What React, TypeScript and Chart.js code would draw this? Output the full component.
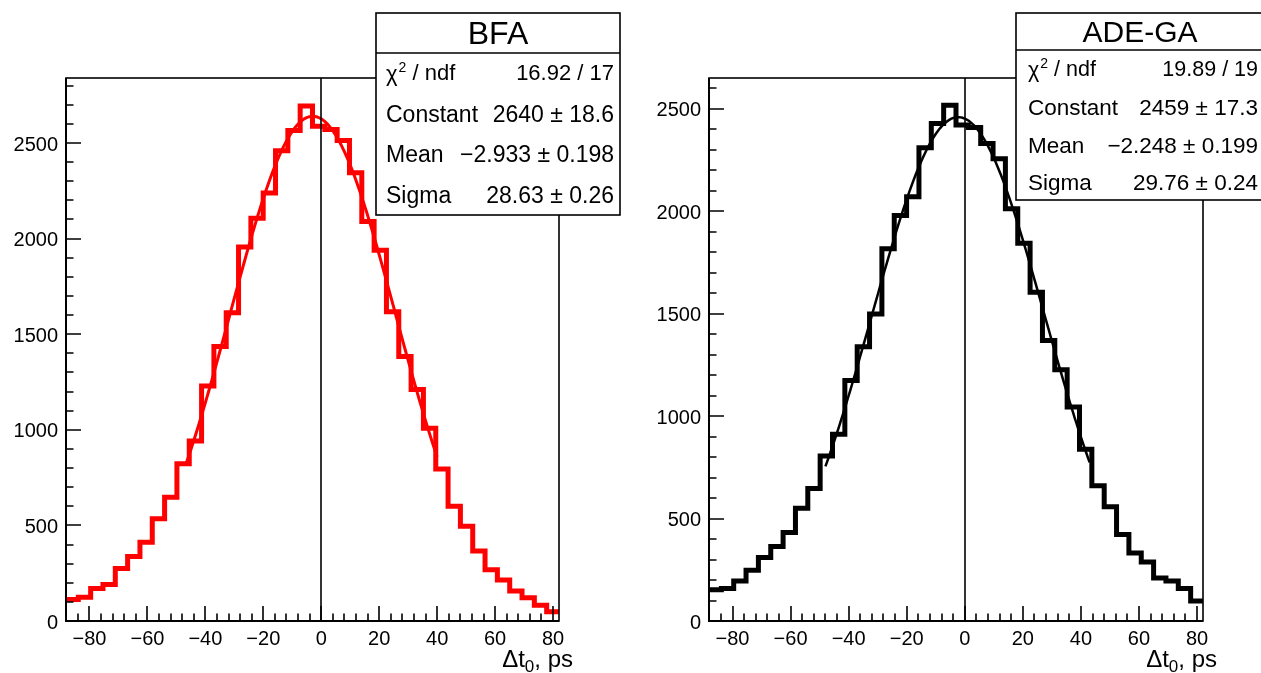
import React, { useEffect, useRef } from "react";
import { Chart, registerables } from "chart.js";

Chart.register(...registerables);

// ---------- data ----------
const X_MIN = -88.1;
const X_MAX = 82.05;
const N_BINS = 40;

const bfaCounts = [
  112, 124, 170, 191, 274, 338, 412, 535, 647, 822,
  942, 1229, 1436, 1612, 1956, 2106, 2239, 2459, 2565, 2694,
  2588, 2571, 2513, 2345, 2089, 1939, 1618, 1383, 1211, 1008,
  795, 600, 495, 366, 268, 214, 157, 122, 82, 48,
];
const adeCounts = [
  152, 159, 195, 248, 310, 363, 432, 550, 647, 805,
  912, 1174, 1338, 1498, 1817, 1979, 2071, 2310, 2428, 2517,
  2421, 2408, 2330, 2256, 2012, 1844, 1605, 1369, 1226, 1044,
  838, 660, 558, 422, 332, 288, 210, 195, 158, 98,
];

const xMajorTicks = [-80, -60, -40, -20, 0, 20, 40, 60, 80];
const yMajorTicks = [0, 500, 1000, 1500, 2000, 2500];

const bfaFit = { constant: 2640, mean: -2.933, sigma: 28.63, from: -46.5, to: 40 };
const adeFit = { constant: 2459, mean: -2.248, sigma: 29.76, from: -48, to: 43 };

const statLabels = ["χ2 / ndf", "Constant", "Mean", "Sigma"];
const bfaStatValues = ["16.92 / 17", "2640 ± 18.6", "−2.933 ± 0.198", "28.63 ± 0.26"];
const adeStatValues = ["19.89 / 19", "2459 ± 17.3", "−2.248 ± 0.199", "29.76 ± 0.24"];

const FONT = "'Liberation Sans', Arial, Helvetica, sans-serif";
const H = 673;

type Panel = {
  counts: number[];
  fit: { constant: number; mean: number; sigma: number; from: number; to: number };
  color: string;
  histWidth: number;
  fitWidth: number;
  yMax: number;
  title: string;
  titleFont: number;
  statValues: string[];
  statFont: number;
  canvasWidth: number;
  area: { left: number; right: number; top: number; bottom: number };
  box: { x0: number; x1: number; y0: number; ySep: number; y1: number; padL: number; padR: number; dy: number };
};

const bfaPanel: Panel = {
  counts: bfaCounts,
  fit: bfaFit,
  color: "#ff0000",
  histWidth: 5,
  fitWidth: 3,
  yMax: 2840,
  title: "BFA",
  titleFont: 32,
  statValues: bfaStatValues,
  statFont: 23,
  canvasWidth: 630,
  area: { left: 66, right: 559, top: 78, bottom: 621 },
  box: { x0: 376, x1: 620, y0: 13, ySep: 53, y1: 215, padL: 10, padR: 6, dy: 1.5 },
};

const adePanel: Panel = {
  counts: adeCounts,
  fit: adeFit,
  color: "#000000",
  histWidth: 5,
  fitWidth: 2.5,
  yMax: 2650,
  title: "ADE-GA",
  titleFont: 30,
  statValues: adeStatValues,
  statFont: 22.5,
  canvasWidth: 621,
  area: { left: 69, right: 563, top: 78, bottom: 621 },
  box: { x0: 376, x1: 624, y0: 13, ySep: 50, y1: 200, padL: 12, padR: 6, dy: 3 },
};

function fmt(v: number): string {
  return v < 0 ? "\u2212" + Math.abs(v) : String(v);
}

function makeChart(canvas: HTMLCanvasElement, p: Panel): Chart {
  const binW = (X_MAX - X_MIN) / N_BINS;
  const histData = p.counts.map((c, i) => ({ x: X_MIN + i * binW, y: c }));
  histData.push({ x: X_MAX, y: p.counts[p.counts.length - 1] });

  const fitData: { x: number; y: number }[] = [];
  const nFit = 160;
  for (let i = 0; i <= nFit; i++) {
    const x = p.fit.from + ((p.fit.to - p.fit.from) * i) / nFit;
    const z = (x - p.fit.mean) / p.fit.sigma;
    fitData.push({ x, y: p.fit.constant * Math.exp(-0.5 * z * z) });
  }

  const overlay = {
    id: "rootStyle",
    afterDraw(chart: any) {
      const ctx: CanvasRenderingContext2D = chart.ctx;
      const xs = chart.scales.x;
      const ys = chart.scales.y;
      const a = chart.chartArea;
      ctx.save();
      ctx.strokeStyle = "#000";
      ctx.lineCap = "butt";

      // zero line
      const x0 = Math.round(xs.getPixelForValue(0));
      ctx.lineWidth = 1.6;
      ctx.beginPath();
      ctx.moveTo(x0, a.bottom);
      ctx.lineTo(x0, a.top);
      ctx.stroke();

      // frame
      ctx.lineWidth = 1.6;
      ctx.strokeRect(a.left, a.top, a.right - a.left, a.bottom - a.top);
      ctx.lineWidth = 2;
      ctx.beginPath();
      ctx.moveTo(a.left, a.top);
      ctx.lineTo(a.left, a.bottom);
      ctx.lineTo(a.right, a.bottom);
      ctx.stroke();

      // x ticks (inside)
      ctx.lineWidth = 1.6;
      ctx.beginPath();
      for (let v = -88; v <= X_MAX; v += 4) {
        if (v < X_MIN) continue;
        const major = xMajorTicks.includes(v);
        const px = Math.round(xs.getPixelForValue(v));
        ctx.moveTo(px, a.bottom);
        ctx.lineTo(px, a.bottom - (major ? 15 : 7.5));
      }
      // y ticks (inside)
      for (let v = 0; v <= p.yMax; v += 100) {
        const major = yMajorTicks.includes(v);
        const py = Math.round(ys.getPixelForValue(v));
        ctx.moveTo(a.left, py);
        ctx.lineTo(a.left + (major ? 15 : 7.5), py);
      }
      ctx.stroke();

      // axis title  Δt0, ps
      ctx.fillStyle = "#000";
      ctx.textBaseline = "alphabetic";
      ctx.textAlign = "left";
      const big = `24px ${FONT}`;
      const small = `17px ${FONT}`;
      ctx.font = big;
      const w1 = ctx.measureText("Δt").width;
      const w3 = ctx.measureText(", ps").width;
      ctx.font = small;
      const w2 = ctx.measureText("0").width;
      const xEnd = a.right + 14;
      let tx = xEnd - (w1 + w2 + w3);
      const base = 667;
      ctx.font = big;
      ctx.fillText("Δt", tx, base);
      tx += w1;
      ctx.font = small;
      ctx.fillText("0", tx, base + 5);
      tx += w2;
      ctx.font = big;
      ctx.fillText(", ps", tx, base);

      // stats box
      const b = p.box;
      ctx.fillStyle = "#fff";
      ctx.fillRect(b.x0, b.y0, b.x1 - b.x0, b.y1 - b.y0);
      ctx.lineWidth = 1.6;
      ctx.strokeRect(b.x0, b.y0, b.x1 - b.x0, b.y1 - b.y0);
      ctx.beginPath();
      ctx.moveTo(b.x0, b.ySep);
      ctx.lineTo(b.x1, b.ySep);
      ctx.stroke();

      ctx.fillStyle = "#000";
      ctx.textBaseline = "middle";
      ctx.textAlign = "center";
      ctx.font = `${p.titleFont}px ${FONT}`;
      ctx.fillText(p.title, (b.x0 + b.x1) / 2, (b.y0 + b.ySep) / 2 + 2);

      const rowH = (b.y1 - b.ySep) / statLabels.length;
      statLabels.forEach((lab, i) => {
        const cy = b.ySep + rowH * (i + 0.5) + (i === 0 ? 1 : b.dy);
        ctx.textAlign = "left";
        if (lab.startsWith("χ2")) {
          ctx.font = `${p.statFont - 1}px ${FONT}`;
          let lx = b.x0 + b.padL;
          ctx.fillText("χ", lx, cy + 1);
          lx += ctx.measureText("χ").width + 1;
          ctx.font = `${Math.round(p.statFont * 0.62)}px ${FONT}`;
          ctx.fillText("2", lx, cy - 6);
          lx += ctx.measureText("2").width;
          ctx.font = `${p.statFont - 1}px ${FONT}`;
          ctx.fillText(lab.slice(2), lx, cy);
        } else {
          ctx.font = `${p.statFont}px ${FONT}`;
          ctx.fillText(lab, b.x0 + b.padL, cy);
        }
        ctx.font = `${p.statFont - (i === 0 ? 1 : 0)}px ${FONT}`;
        ctx.textAlign = "right";
        ctx.fillText(p.statValues[i], b.x1 - b.padR, cy);
      });
      ctx.restore();
    },
  };

  return new Chart(canvas, {
    type: "line",
    data: {
      datasets: [
        {
          data: fitData,
          borderColor: p.color,
          borderWidth: p.fitWidth,
          pointRadius: 0,
          tension: 0,
          fill: false,
          order: 0,
        },
        {
          data: histData,
          borderColor: p.color,
          borderWidth: p.histWidth,
          pointRadius: 0,
          stepped: "before",
          borderJoinStyle: "miter",
          fill: false,
          order: 1,
        },
      ],
    },
    options: {
      animation: false,
      responsive: false,
      events: [],
      layout: {
        autoPadding: false,
        padding: { left: 0, top: p.area.top, right: p.canvasWidth - p.area.right, bottom: 0 },
      },
      plugins: {
        legend: { display: false },
        tooltip: { enabled: false },
        title: { display: false },
      },
      scales: {
        x: {
          type: "linear",
          bounds: "data",
          min: X_MIN,
          max: X_MAX,
          grid: { display: false, drawTicks: false },
          border: { display: false },
          afterBuildTicks: (s: any) => {
            s.ticks = xMajorTicks.map((v) => ({ value: v }));
          },
          afterFit: (s: any) => {
            s.height = H - p.area.bottom;
          },
          ticks: {
            autoSkip: false,
            maxRotation: 0,
            padding: 6,
            color: "#000",
            font: { family: FONT, size: 20 },
            callback: (v: any) => fmt(Number(v)),
          },
        },
        y: {
          type: "linear",
          bounds: "data",
          min: 0,
          max: p.yMax,
          grid: { display: false, drawTicks: false },
          border: { display: false },
          afterBuildTicks: (s: any) => {
            s.ticks = yMajorTicks.map((v) => ({ value: v }));
          },
          afterFit: (s: any) => {
            s.width = p.area.left;
          },
          ticks: {
            autoSkip: false,
            padding: 8,
            labelOffset: 2,
            color: "#000",
            font: { family: FONT, size: 20 },
            callback: (v: any) => fmt(Number(v)),
          },
        },
      },
    },
    plugins: [overlay],
  } as any);
}

export default function App() {
  const leftRef = useRef<HTMLCanvasElement>(null);
  const rightRef = useRef<HTMLCanvasElement>(null);

  useEffect(() => {
    const charts: Chart[] = [];
    if (leftRef.current) charts.push(makeChart(leftRef.current, bfaPanel));
    if (rightRef.current) charts.push(makeChart(rightRef.current, adePanel));
    return () => charts.forEach((c) => c.destroy());
  }, []);

  return (
    <div
      style={{
        position: "absolute",
        left: 0,
        top: 0,
        width: 1261,
        height: H,
        background: "#fff",
        overflow: "hidden",
      }}
    >
      <canvas
        ref={leftRef}
        width={bfaPanel.canvasWidth}
        height={H}
        style={{ position: "absolute", left: 0, top: 0, width: bfaPanel.canvasWidth, height: H }}
      />
      <canvas
        ref={rightRef}
        width={adePanel.canvasWidth}
        height={H}
        style={{ position: "absolute", left: 640, top: 0, width: adePanel.canvasWidth, height: H }}
      />
    </div>
  );
}
